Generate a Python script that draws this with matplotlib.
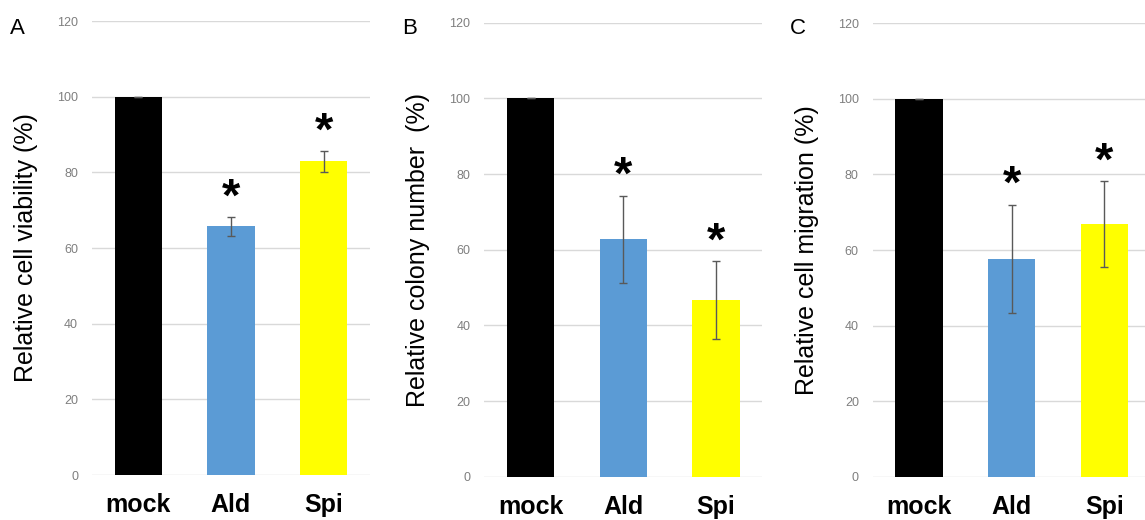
import numpy as np
import matplotlib
matplotlib.use("Agg")
import matplotlib.pyplot as plt

plt.rcParams['font.family'] = ['Liberation Sans', 'DejaVu Sans']

groups = ['mock', 'Ald', 'Spi']
colors = ['#000000', '#5b9bd5', '#ffff00']

panel_letters = ['A', 'B', 'C']
ylabels = ['Relative cell viability (%)',
           'Relative colony number  (%)',
           'Relative cell migration (%)']

viability = [100, 65.7, 82.9]
viability_err = [0, 2.5, 2.8]
colony = [100, 62.8, 46.8]
colony_err = [0, 11.5, 10.3]
migration = [100, 57.7, 66.9]
migration_err = [0, 14.3, 11.4]

# which bars get a significance star
starred = [False, True, True]

values = [viability, colony, migration]
errors = [viability_err, colony_err, migration_err]

fig = plt.figure(figsize=(11.45, 5.2), dpi=100)
lefts = [0.0803, 0.423, 0.7622]
bottoms = [0.0865, 0.0833, 0.0827]

for i in range(3):
    ax = fig.add_axes([lefts[i], bottoms[i], 0.2428, 0.873])
    x = np.arange(len(groups))
    ax.bar(x, values[i], width=0.51, color=colors, zorder=3)
    ax.errorbar(x, values[i], yerr=errors[i], fmt='none', ecolor='#595959',
                elinewidth=1, capsize=3, capthick=1, zorder=4)
    for xi, v, e, s in zip(x, values[i], errors[i], starred):
        if s:
            ax.text(xi, v + e + 1.7, '*', ha='center', va='baseline',
                    fontsize=34, fontweight='bold', color='#000000', zorder=5)

    ax.set_xlim(-0.5, 2.5)
    ax.set_ylim(0, 120)
    ax.set_yticks(np.arange(0, 121, 20))
    ax.yaxis.grid(True, color='#d9d9d9', linewidth=1, zorder=0)
    ax.set_axisbelow(True)
    for sp in ax.spines.values():
        sp.set_visible(False)
    ax.tick_params(axis='y', length=0, pad=10, labelsize=9, labelcolor='#7f7f7f')
    ax.tick_params(axis='x', length=0, pad=13)
    ax.set_xticks(x)
    ax.set_xticklabels(groups, fontsize=18, fontweight='bold')
    ax.set_ylabel(ylabels[i], fontsize=18)
    ax.yaxis.set_label_coords(-0.195, 0.5)
    fig.text(lefts[i] - 0.072, 0.965, panel_letters[i], fontsize=16,
             ha='left', va='top')

fig.savefig('out.png', dpi=100)
